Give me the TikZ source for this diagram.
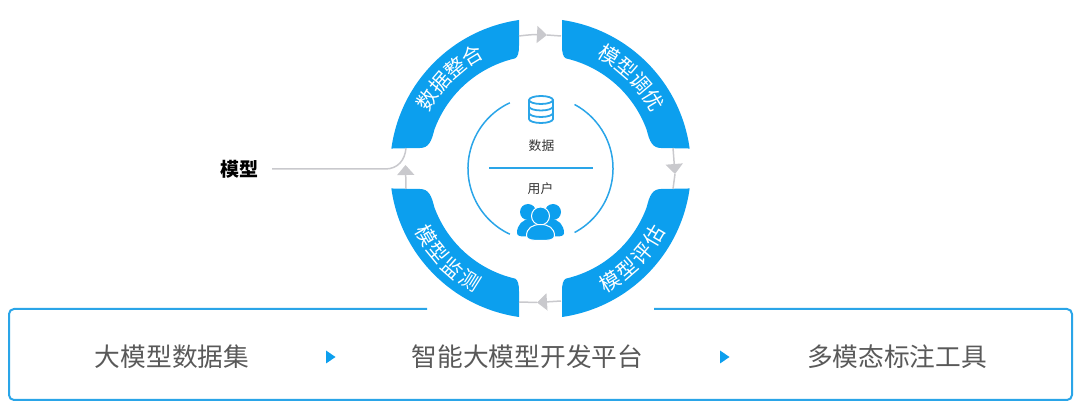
\documentclass[tikz,border=0pt]{standalone}
\usepackage{fontspec}
\setmainfont{Noto Sans CJK SC}
\usetikzlibrary{arrows.meta}
\definecolor{ringblue}{HTML}{0C9FEE}
\definecolor{lineblue}{HTML}{2AA5E8}
\definecolor{conngray}{HTML}{C9C9CD}
\definecolor{labelgray}{HTML}{595959}
\tikzset{
  x=1pt,y=1pt,
  conn/.style={draw=conngray,line width=1.5pt},
  tipped/.style={conn,-{Triangle[length=10pt,width=17pt,fill=conngray]}},
  toptext/.style={font=\fontsize{25.7pt}{30pt}\selectfont,text=labelgray,inner sep=0pt},
  small/.style={font=\fontsize{12.8pt}{15pt}\selectfont,text=black!80,inner sep=0pt},
  inring/.style={draw=lineblue,line width=1.5pt},
  boxline/.style={draw=lineblue,line width=2pt},
  pointer/.style={fill=ringblue},
  ringchar/.style={font=\fontsize{20.5pt}{24pt}\selectfont,text=white,inner sep=0pt}
}
\newcommand{\ringseg}{%
  \fill[ringblue] (-21.5,148.5) arc[start angle=98.2,end angle=172.2,radius=150.5]
    -- (-120.5,20.5) .. controls (-112,20.5) and (-109,27) .. (160:113)
    arc[start angle=160,end angle=103,radius=113]
    .. controls (-22.5,111.5) and (-21.5,116) .. (-21.5,123) -- cycle;}
\begin{document}
\begin{tikzpicture}
\useasboundingbox (0,0) rectangle (1080,410);
\coordinate (c) at (540.5,241.5);
% ring segments
\begin{scope}[shift={(c)}]
  \ringseg
  \begin{scope}[xscale=-1]\ringseg\end{scope}
  \begin{scope}[yscale=-1]\ringseg\end{scope}
  \begin{scope}[xscale=-1,yscale=-1]\ringseg\end{scope}
  \foreach \ch [count=\i] in {数,据,整,合} {
    \pgfmathsetmacro{\ang}{135+13.8-9.2*(\i-1)}
    \node[ringchar,rotate=\ang-90] (tl\i) at (\ang:132) {\ch};}
  \foreach \ch [count=\i] in {模,型,调,优} {
    \pgfmathsetmacro{\ang}{45+13.8-9.2*(\i-1)}
    \node[ringchar,rotate=\ang-90] (tr\i) at (\ang:132) {\ch};}
  \foreach \ch [count=\i] in {模,型,监,测} {
    \pgfmathsetmacro{\ang}{224-13.8+9.2*(\i-1)}
    \node[ringchar,rotate=\ang+90] (bl\i) at (\ang:132.5) {\ch};}
  \foreach \ch [count=\i] in {模,型,评,估} {
    \pgfmathsetmacro{\ang}{315.5-13.8+9.2*(\i-1)}
    \node[ringchar,rotate=\ang+90] (br\i) at (\ang:132.5) {\ch};}
\end{scope}
% connector anchors
\coordinate (s1top) at (519,374);
\coordinate (s2top) at (561,374);
\coordinate (tipT) at (547,375);
\coordinate (s2bot) at (673,262);
\coordinate (s3top) at (673,221);
\coordinate (tipR) at (675,236);
\coordinate (s3left) at (561,109);
\coordinate (s4right) at (519,108);
\coordinate (tipB) at (537,107.5);
\coordinate (s4top) at (406,221);
\coordinate (s1bot) at (406,262);
\coordinate (tipL) at (405.5,245);
\draw[tipped] (s1top) to[bend left=5] (tipT);
\draw[conn] (tipT) -- (s2top);
\draw[tipped] (s2bot) -- (tipR);
\draw[conn] (tipR) -- (s3top);
\draw[tipped] (s3left) -- (tipB);
\draw[conn] (tipB) -- (s4right);
\draw[tipped] (s4top) -- (tipL);
% model label and its line
\node[font=\fontsize{19pt}{22pt}\selectfont\bfseries,inner sep=0pt] (model) at (239,241) {模型};
\coordinate (modelstart) at (272,241);
\draw[conn] (modelstart) -- (385,241) .. controls (398,241) and (405,250) .. (s1bot);
% inner circle
\begin{scope}[shift={(c)}]
  \draw[inring] (115:72.5) arc[start angle=115,end angle=245,radius=72.5];
  \draw[inring] (-62:72.5) arc[start angle=-62,end angle=62,radius=72.5];
\end{scope}
\coordinate (divL) at (489,242);
\coordinate (divR) at (593,242);
\draw[inring] (divL) -- (divR);
\node[small] (data) at (541.5,264) {数据};
\node[small] (user) at (540.5,221) {用户};
% database icon
\begin{scope}[shift={(541,310)},line width=1.8pt]
  \draw[lineblue] (0,0) ellipse[x radius=12,y radius=4];
  \draw[lineblue] (-12,0) -- (-12,-19) arc[start angle=180,end angle=360,x radius=12,y radius=4] -- (12,0);
  \draw[lineblue] (-12,-6.5) arc[start angle=180,end angle=360,x radius=12,y radius=4];
  \draw[lineblue] (-12,-13) arc[start angle=180,end angle=360,x radius=12,y radius=4];
\end{scope}
% users icon
\begin{scope}[shift={(540.5,170)}]
  \fill[ringblue] (-12.5,28) circle[radius=8];
  \fill[ringblue] (12.5,28) circle[radius=8];
  \fill[ringblue] (-23.5,7) .. controls (-23.5,15) and (-18,21) .. (-10,21) -- (10,21) .. controls (18,21) and (23.5,15) .. (23.5,7) .. controls (23.5,4) and (20,3.5) .. (16,3.5) -- (-16,3.5) .. controls (-20,3.5) and (-23.5,4) .. (-23.5,7) -- cycle;
  \filldraw[fill=ringblue,draw=white,line width=1pt] (0,24) circle[radius=9];
  \filldraw[fill=ringblue,draw=white,line width=1pt] (-14,4) .. controls (-14,12) and (-8,15.5) .. (0,15.5) .. controls (8,15.5) and (14,12) .. (14,4) .. controls (14,0) and (8,-0.5) .. (0,-0.5) .. controls (-8,-0.5) and (-14,0) .. (-14,4) -- cycle;
\end{scope}
% bottom box
\coordinate (boxL) at (427,101);
\coordinate (boxR) at (654,101);
\draw[boxline,rounded corners=5pt] (boxL) -- (9,101) -- (9,10) -- (1072,10) -- (1072,101) -- (boxR);
\node[toptext] (t1) at (172,53) {大模型数据集};
\node[toptext] (t2) at (527.5,53) {智能大模型开发平台};
\node[toptext] (t3) at (897,53) {多模态标注工具};
\fill[pointer] (326,59.5) -- (335.5,53) -- (326,46.5) -- cycle;
\fill[pointer] (720,59.5) -- (729.5,53) -- (720,46.5) -- cycle;
\end{tikzpicture}
\end{document}
